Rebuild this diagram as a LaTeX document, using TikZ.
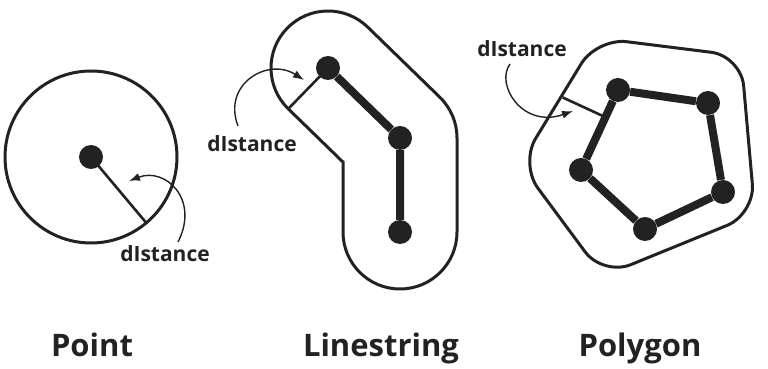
\documentclass[tikz,border=0pt]{standalone}
\usepackage{fontspec}
\setmainfont{Open Sans}
\usetikzlibrary{calc,arrows.meta}

\definecolor{ink}{RGB}{34,34,34}
\tikzstyle{vertex} = [circle, minimum size=24pt, fill=ink, inner sep=0pt]
\tikzstyle{edge} = [line width=8pt, draw=ink]
\tikzstyle{buffer} = [line width=3pt, draw=ink]
\tikzstyle{reach} = [line width=2.6pt, draw=ink]
\tikzstyle{pointer} = [line width=1.4pt, draw=ink, -{Latex[length=11pt,width=8pt]}]
\tikzstyle{note} = [font=\bfseries\fontsize{21}{21}\selectfont, text=ink, inner sep=0pt, anchor=base]
\tikzstyle{title} = [font=\bfseries\fontsize{31}{31}\selectfont, text=ink, inner sep=0pt, anchor=base]

\begin{document}
\begin{tikzpicture}[x=1pt,y=1pt]
\useasboundingbox (0,0) rectangle (768,369);

% point
\node[vertex] (p) at (91,212) {};
\draw[buffer] (p.center) circle (86pt);
\draw[reach] (p.center) -- ($(p.center)+(-50:86pt)$);
\node[note] (pl) at (165,107) {dIstance};
\coordinate (pa) at (178,127);
\coordinate (pb) at (129,188);
\draw[pointer] (pa) .. controls (200,170) and (165,202) .. (pb);

% linestring
\node[vertex] (l1) at (328,301) {};
\node[vertex] (l2) at (400,231) {};
\node[vertex] (l3) at (400,137) {};
\draw[buffer] ($(l1.center)+(45.8:57pt)$) -- ($(l2.center)+(45.8:57pt)$)
  arc[start angle=45.8, end angle=0, radius=57pt]
  -- ($(l3.center)+(57pt,0)$)
  arc[start angle=0, end angle=-180, radius=57pt]
  -- (343,206.9) -- ($(l1.center)+(-134.2:57pt)$)
  arc[start angle=-134.2, end angle=-314.2, radius=57pt] -- cycle;
\draw[edge] (l1) -- (l2) -- (l3);
\draw[reach] (l1.center) -- ($(l1.center)+(-134.2:57pt)$);
\node[note] (ll) at (252,217) {dIstance};
\coordinate (la) at (238,243);
\coordinate (lb) at (304,289);
\draw[pointer] (la) .. controls (222,285) and (268,312) .. (lb);

% polygon
\node[vertex] (g1) at (618,279) {};
\node[vertex] (g2) at (708,266) {};
\node[vertex] (g3) at (723,177) {};
\node[vertex] (g4) at (645,140) {};
\node[vertex] (g5) at (581,199) {};
\draw[buffer, rounded corners=30pt] (597,331) -- (741,313) -- (755,155)
  -- (603,93) -- (520,205) -- cycle;
\draw[edge] (g1) -- (g2) -- (g3) -- (g4) -- (g5) -- (g1);
\coordinate (gf) at ($(g5.center)!0.66!(g1.center)$);
\draw[reach] (gf) -- ($(gf)!47pt!90:(g1.center)$);
\node[note] (gl) at (522,312) {dIstance};
\coordinate (ga) at (510,305);
\coordinate (gb) at (573,258);
\draw[pointer] (ga) .. controls (495,285) and (522,240) .. (gb);

% titles
\node[title] (tp) at (92,12) {Point};
\node[title] (tl) at (381,12) {Linestring};
\node[title] (tg) at (640,12) {Polygon};
\end{tikzpicture}
\end{document}
